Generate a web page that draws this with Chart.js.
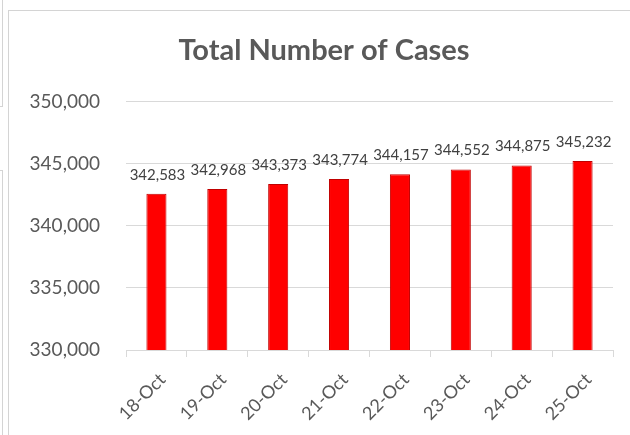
<!DOCTYPE html>
<html>
<head>
<meta charset="utf-8">
<script src="https://cdn.jsdelivr.net/npm/chart.js@4/dist/chart.umd.min.js"></script>
<style>
  html, body { margin: 0; padding: 0; background: #fff; }
  #wrap { position: relative; width: 630px; height: 435px; overflow: hidden; }
  canvas { position: absolute; left: 0; top: 0; }
  .ln { position: absolute; background: #d4d4d4; }
</style>
</head>
<body>
<div id="wrap">
  <canvas id="c" width="630" height="435"></canvas>
  <div class="ln" style="left:2px;top:0;width:1px;height:107px;"></div>
  <div class="ln" style="left:0;top:106px;width:3px;height:1px;"></div>
  <div class="ln" style="left:2px;top:170px;width:1px;height:265px;"></div>
  <div class="ln" style="left:0;top:170px;width:3px;height:1px;"></div>
  <div class="ln" style="left:8px;top:10px;width:1px;height:425px;"></div>
  <div class="ln" style="left:8px;top:10px;width:622px;height:1px;"></div>
</div>
<script>
const categories = ["18-Oct", "19-Oct", "20-Oct", "21-Oct", "22-Oct", "23-Oct", "24-Oct", "25-Oct"];
const totalCases = [342583, 342968, 343373, 343774, 344157, 344552, 344875, 345232];
const yTicks = [330000, 335000, 340000, 345000, 350000];

const fmt = v => v.toLocaleString('en-US');

const dataLabels = {
  id: 'dataLabels',
  afterDatasetsDraw(chart) {
    const ctx = chart.ctx;
    const meta = chart.getDatasetMeta(0);
    ctx.save();
    ctx.font = '15px Lato';
    ctx.fillStyle = '#404040';
    ctx.textAlign = 'center';
    ctx.textBaseline = 'alphabetic';
    meta.data.forEach((bar, i) => {
      ctx.fillText(fmt(chart.data.datasets[0].data[i]), bar.x + 1, bar.y - 14);
    });
    ctx.restore();
  }
};

const titleShift = {
  id: 'titleShift',
  afterLayout(chart) {
    if (chart.titleBlock) { chart.titleBlock.left += 15; }
  }
};

new Chart(document.getElementById('c'), {
  type: 'bar',
  data: {
    labels: categories,
    datasets: [{
      data: totalCases,
      backgroundColor: '#ff0000',
      borderColor: '#c00000',
      borderWidth: 1,
      barPercentage: 0.66,
      categoryPercentage: 0.5
    }]
  },
  options: {
    responsive: false,
    animation: false,
    layout: { padding: { left: 20, right: 17, top: 0, bottom: 0 } },
    plugins: {
      legend: { display: false },
      tooltip: { enabled: false },
      title: {
        display: true,
        text: 'Total Number of Cases',
        color: '#595959',
        font: { family: 'Lato', size: 29, weight: 'bold', lineHeight: 1.2 },
        padding: { top: 33, bottom: 34 }
      }
    },
    scales: {
      y: {
        min: 330000,
        max: 350000,
        afterBuildTicks: s => { s.ticks = yTicks.map(v => ({ value: v })); },
        afterFit: s => { s.width = 106; },
        border: { display: false },
        grid: { color: '#d9d9d9', lineWidth: 1, drawTicks: false },
        ticks: {
          padding: 26,
          color: '#595959',
          font: { family: 'Lato', size: 19 },
          callback: v => fmt(v)
        }
      },
      x: {
        afterFit: s => { s.height = 85; },
        border: { display: true, color: '#d9d9d9', width: 1 },
        grid: { drawOnChartArea: false, drawTicks: true, tickLength: 7, color: '#d9d9d9', offset: true },
        ticks: {
          minRotation: 45,
          maxRotation: 45,
          padding: 12,
          labelOffset: 6,
          color: '#595959',
          font: { family: 'Lato', size: 18 }
        }
      }
    }
  },
  plugins: [dataLabels, titleShift]
});
</script>
</body>
</html>
